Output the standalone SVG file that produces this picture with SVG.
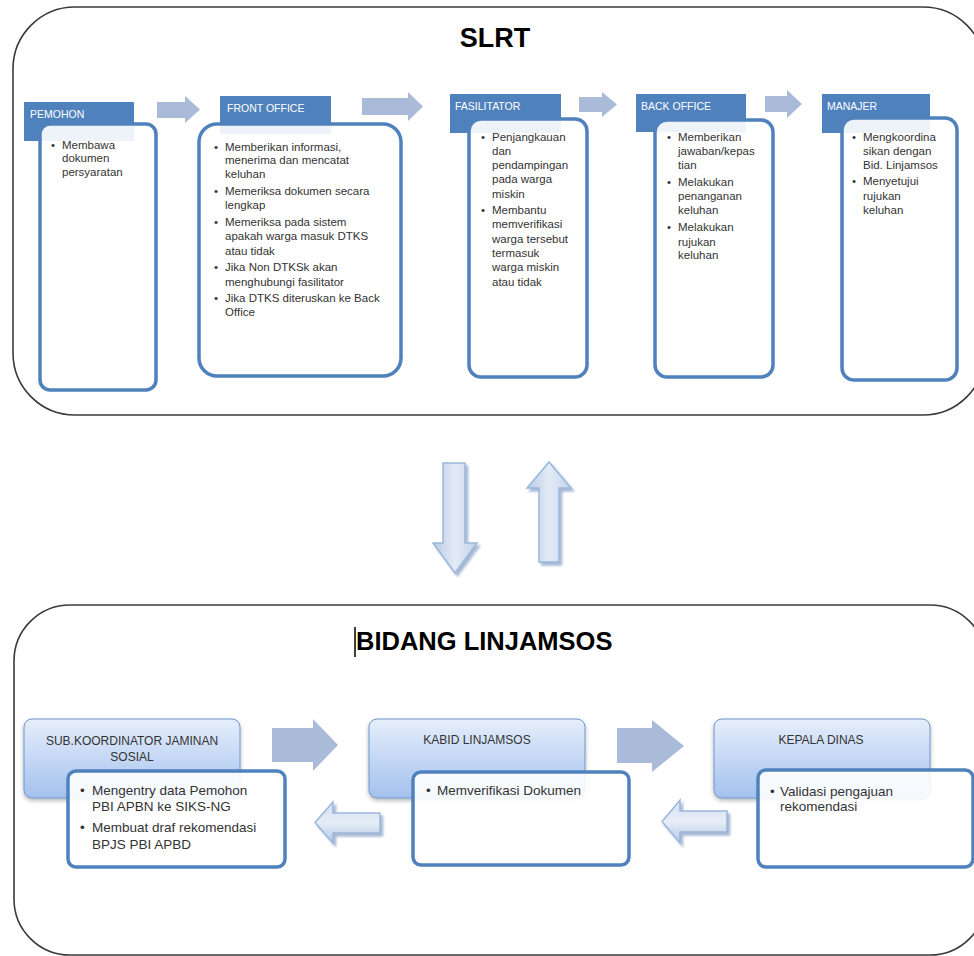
<svg xmlns="http://www.w3.org/2000/svg" width="974" height="956" viewBox="0 0 974 956">
<style>
.frame{fill:#fff;stroke:#3a3a3a;stroke-width:1.6}
.title{font-family:"Liberation Sans",Arial,sans-serif;font-weight:bold;fill:#000}
.hdr{fill:#4F81BD}
.hdrt{font-family:"Liberation Sans",Arial,sans-serif;font-size:10.5px;fill:#fff}
.body{fill:#fff;fill-opacity:0.9;stroke:#4F81BD;stroke-width:3.5}
.t{font-family:"Liberation Sans",Arial,sans-serif;font-size:11.5px;fill:#333}
.hdr2{fill:url(#hg);stroke:#6E96CC;stroke-width:1}
.hdr2t{font-family:"Liberation Sans",Arial,sans-serif;font-size:12px;fill:#333;text-anchor:middle}
.t2{font-family:"Liberation Sans",Arial,sans-serif;font-size:13.5px;fill:#333}
.flat{fill:#AABBDA}
.va{fill:url(#vg);stroke:#9AB7DC;stroke-width:1.5}
.ha{fill:url(#hgA);stroke:#9AB7DC;stroke-width:1.5}
</style>
<defs>
<linearGradient id="hg" x1="0" y1="0" x2="0" y2="1">
<stop offset="0" stop-color="#E6EEFB"/>
<stop offset="1" stop-color="#A3C1EE"/>
</linearGradient>
<linearGradient id="vg" x1="0" y1="0" x2="1" y2="0">
<stop offset="0" stop-color="#B7CBE4"/>
<stop offset="0.5" stop-color="#E3EBF6"/>
<stop offset="1" stop-color="#C2D4EA"/>
</linearGradient>
<linearGradient id="hgA" x1="0" y1="0" x2="0" y2="1">
<stop offset="0" stop-color="#D2DFEF"/>
<stop offset="0.5" stop-color="#E6EDF7"/>
<stop offset="1" stop-color="#B4C9E3"/>
</linearGradient>
<filter id="sh" x="-20%" y="-20%" width="150%" height="150%">
<feDropShadow dx="2.5" dy="3" stdDeviation="1" flood-color="#5F80B0" flood-opacity="0.55"/>
</filter>
<filter id="sh2" x="-10%" y="-10%" width="120%" height="130%">
<feDropShadow dx="0" dy="2" stdDeviation="2" flood-color="#000" flood-opacity="0.3"/>
</filter>
</defs>

<g id="slrt-frame">
<rect class="frame" x="13" y="7" width="972" height="408" rx="62" ry="62"/>
<text class="title" x="495" y="47" font-size="27" text-anchor="middle">SLRT</text>
</g>

<g id="bidang-frame">
<rect class="frame" x="14" y="605" width="972" height="350" rx="56" ry="56"/>
<text class="title" x="356" y="650" font-size="25.5">BIDANG LINJAMSOS</text>
<line x1="355" y1="627" x2="355" y2="657" stroke="#000" stroke-width="1.5"/>
</g>

<g id="connectors">
<polygon class="flat" points="157,102 185,102 185,96 200,109.5 185,123 185,118 157,118"/>
<polygon class="flat" points="362,98 408,98 408,92 423,106.5 408,121 408,115 362,115"/>
<polygon class="flat" points="579,97 602,97 602,92 617,104.5 602,117 602,112 579,112"/>
<polygon class="flat" points="765,96 787,96 787,90 802,104 787,118 787,112 765,112"/>
<polygon class="va" filter="url(#sh)" points="443,463 465,463 465,543 477,543 455,573 433,543 443,543"/>
<polygon class="va" filter="url(#sh)" points="549,462 571,488 559,488 559,562 539,562 539,488 527,488"/>
<polygon class="flat" points="272,728 313,728 313,719 338,745 313,771 313,762 272,762"/>
<polygon class="flat" points="617,728 652,728 652,720 684,746 652,772 652,763 617,763"/>
<polygon class="ha" filter="url(#sh)" points="315,822.5 333,802 333,813 380,813 380,833 333,833 333,843"/>
<polygon class="ha" filter="url(#sh)" points="662,821.5 680,800 680,811 727,811 727,832 680,832 680,843"/>
</g>

<g id="pemohon">
<rect class="hdr" x="24" y="102" width="110" height="39"/>
<text class="hdrt" x="30" y="118">PEMOHON</text>
<rect class="body" x="40" y="124" width="116" height="266" rx="10"/>
<text class="t" x="51" y="149">•</text>
<text class="t" x="62" y="149">Membawa</text>
<text class="t" x="62" y="162">dokumen</text>
<text class="t" x="62" y="176">persyaratan</text>
</g>

<g id="front-office">
<rect class="hdr" x="220" y="96" width="111" height="38"/>
<text class="hdrt" x="227" y="112">FRONT OFFICE</text>
<rect class="body" x="199" y="124" width="202" height="252" rx="18"/>
<text class="t" x="214" y="151">•</text>
<text class="t" x="225" y="151">Memberikan informasi,</text>
<text class="t" x="225" y="164">menerima dan mencatat</text>
<text class="t" x="225" y="178">keluhan</text>
<text class="t" x="214" y="195">•</text>
<text class="t" x="225" y="195">Memeriksa dokumen secara</text>
<text class="t" x="225" y="209">lengkap</text>
<text class="t" x="214" y="226">•</text>
<text class="t" x="225" y="226">Memeriksa pada sistem</text>
<text class="t" x="225" y="240">apakah warga masuk DTKS</text>
<text class="t" x="225" y="255">atau tidak</text>
<text class="t" x="214" y="271">•</text>
<text class="t" x="225" y="271">Jika Non DTKSk akan</text>
<text class="t" x="225" y="286">menghubungi fasilitator</text>
<text class="t" x="214" y="302">•</text>
<text class="t" x="225" y="302">Jika DTKS diteruskan ke Back</text>
<text class="t" x="225" y="316">Office</text>
</g>

<g id="fasilitator">
<rect class="hdr" x="450" y="94" width="111" height="39"/>
<text class="hdrt" x="455" y="110">FASILITATOR</text>
<rect class="body" x="469" y="119" width="118" height="258" rx="12"/>
<text class="t" x="481" y="141">•</text>
<text class="t" x="492" y="141">Penjangkauan</text>
<text class="t" x="492" y="155">dan</text>
<text class="t" x="492" y="169">pendampingan</text>
<text class="t" x="492" y="183">pada warga</text>
<text class="t" x="492" y="198">miskin</text>
<text class="t" x="481" y="214">•</text>
<text class="t" x="492" y="214">Membantu</text>
<text class="t" x="492" y="228">memverifikasi</text>
<text class="t" x="492" y="243">warga tersebut</text>
<text class="t" x="492" y="257">termasuk</text>
<text class="t" x="492" y="271">warga miskin</text>
<text class="t" x="492" y="286">atau tidak</text>
</g>

<g id="back-office">
<rect class="hdr" x="636" y="94" width="110" height="38"/>
<text class="hdrt" x="641" y="110">BACK OFFICE</text>
<rect class="body" x="655" y="120" width="118" height="257" rx="12"/>
<text class="t" x="667" y="141">•</text>
<text class="t" x="678" y="141">Memberikan</text>
<text class="t" x="678" y="155">jawaban/kepas</text>
<text class="t" x="678" y="169">tian</text>
<text class="t" x="667" y="186">•</text>
<text class="t" x="678" y="186">Melakukan</text>
<text class="t" x="678" y="200">penanganan</text>
<text class="t" x="678" y="214">keluhan</text>
<text class="t" x="667" y="231">•</text>
<text class="t" x="678" y="231">Melakukan</text>
<text class="t" x="678" y="246">rujukan</text>
<text class="t" x="678" y="259">keluhan</text>
</g>

<g id="manajer">
<rect class="hdr" x="822" y="94" width="108" height="39"/>
<text class="hdrt" x="827" y="110">MANAJER</text>
<rect class="body" x="842" y="118" width="115" height="262" rx="12"/>
<text class="t" x="852" y="141">•</text>
<text class="t" x="863" y="141">Mengkoordina</text>
<text class="t" x="863" y="155">sikan dengan</text>
<text class="t" x="863" y="169">Bid. Linjamsos</text>
<text class="t" x="852" y="185">•</text>
<text class="t" x="863" y="185">Menyetujui</text>
<text class="t" x="863" y="200">rujukan</text>
<text class="t" x="863" y="214">keluhan</text>
</g>

<g id="sub-koordinator">
<rect class="hdr2" filter="url(#sh2)" x="24" y="719" width="216" height="79" rx="8"/>
<text class="hdr2t" x="132" y="745">SUB.KOORDINATOR JAMINAN</text>
<text class="hdr2t" x="132" y="761">SOSIAL</text>
<rect class="body" x="68" y="771" width="217" height="96" rx="8"/>
<text class="t2" x="80" y="795">•</text>
<text class="t2" x="92" y="795">Mengentry data Pemohon</text>
<text class="t2" x="92" y="811">PBI APBN ke SIKS-NG</text>
<text class="t2" x="80" y="832">•</text>
<text class="t2" x="92" y="832">Membuat draf rekomendasi</text>
<text class="t2" x="92" y="849">BPJS PBI APBD</text>
</g>

<g id="kabid-linjamsos">
<rect class="hdr2" filter="url(#sh2)" x="369" y="719" width="216" height="79" rx="8"/>
<text class="hdr2t" x="477" y="744">KABID LINJAMSOS</text>
<rect class="body" x="413" y="772" width="216" height="93" rx="8"/>
<text class="t2" x="426" y="795">•</text>
<text class="t2" x="437" y="795">Memverifikasi Dokumen</text>
</g>

<g id="kepala-dinas">
<rect class="hdr2" filter="url(#sh2)" x="714" y="719" width="216" height="79" rx="8"/>
<text class="hdr2t" x="821" y="744">KEPALA DINAS</text>
<rect class="body" x="758" y="770" width="215" height="97" rx="8"/>
<text class="t2" x="770" y="796">•</text>
<text class="t2" x="780" y="796">Validasi pengajuan</text>
<text class="t2" x="780" y="811">rekomendasi</text>
</g>
</svg>
